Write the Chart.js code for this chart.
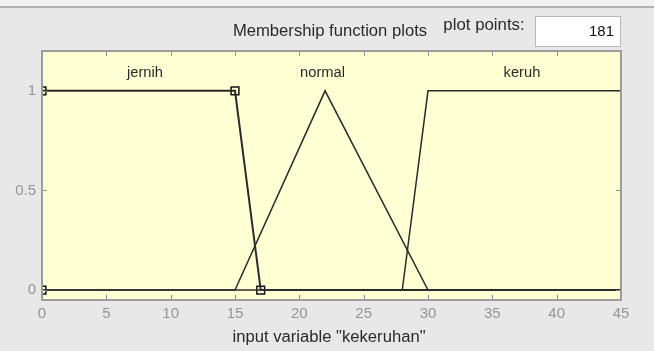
<!DOCTYPE html>
<html>
<head>
<meta charset="utf-8">
<script src="https://cdn.jsdelivr.net/npm/chart.js@4"></script>
<style>
  html, body { margin: 0; padding: 0; background: #e8e8e8; }
  #wrap { width: 654px; height: 351px; }
</style>
</head>
<body>
<div id="wrap"><canvas id="mf"></canvas></div>
<script>
// membership functions of "kekeruhan"
const mfNames = ['jernih', 'normal', 'keruh'];
const jernihX = [0, 15, 17, 45];
const jernihY = [1, 1, 0, 0];
const normalX = [0, 15, 22, 30, 45];
const normalY = [0, 0, 1, 0, 0];
const keruhX = [0, 28, 30, 45];
const keruhY = [0, 0, 1, 1];
// parameter markers of the selected MF (jernih, trapmf [0 0 15 17])
const markerX = [0, 0, 15, 17];
const markerY = [0, 1, 1, 0];
// label anchor positions
const labelX = [8, 21.8, 37.3];
const labelY = 1.09;
const xTicks = [0, 5, 10, 15, 20, 25, 30, 35, 40, 45];
const yTicks = [0, 0.5, 1];
const plotPoints = '181';
const xTitle = 'input variable "kekeruhan"';

const FONT = '"Liberation Sans", Arial, sans-serif';

function pts(xs, ys) {
    return xs.map((x, i) => ({ x: x, y: ys[i] }));
}

// text slightly wider than the font, like the old GUI font
function wideText(ctx, txt, x, y, sx) {
    ctx.save();
    ctx.translate(x, y);
    ctx.scale(sx, 1);
    ctx.fillText(txt, 0, 0);
    ctx.restore();
}

const panelPlugin = {
    id: 'panel',
    beforeDraw(chart) {
        const ctx = chart.ctx;
        const a = chart.chartArea;
        ctx.save();
        ctx.fillStyle = '#e8e8e8';
        ctx.fillRect(0, 0, chart.width, chart.height);
        ctx.fillStyle = '#f2f2f2';
        ctx.fillRect(0, 0, chart.width, 6);
        ctx.fillStyle = '#b2b2b2';
        ctx.fillRect(0, 6, chart.width, 2);
        // plot background
        ctx.fillStyle = '#ffffd4';
        ctx.fillRect(a.left, a.top, a.right - a.left, a.bottom - a.top);

        ctx.fillStyle = '#2a2a2a';
        ctx.font = '16px ' + FONT;
        ctx.textBaseline = 'middle';
        ctx.textAlign = 'center';
        wideText(ctx, 'Membership function plots', 330, 32, 1.04);
        wideText(ctx, 'plot points:', 484, 26, 1.05);
        wideText(ctx, xTitle, 329, 338, 1.04);

        // plot points box
        ctx.fillStyle = '#ffffff';
        ctx.fillRect(535, 16, 85, 30);
        ctx.strokeStyle = '#b8b8b8';
        ctx.lineWidth = 1;
        ctx.strokeRect(535.5, 16.5, 85, 30);
        ctx.fillStyle = '#111';
        ctx.textAlign = 'right';
        ctx.font = '15px ' + FONT;
        ctx.fillText(plotPoints, 614, 32);
        ctx.restore();
    },
    afterDatasetsDraw(chart) {
        const ctx = chart.ctx;
        const a = chart.chartArea;
        const xs = chart.scales.x;
        const ys = chart.scales.y;
        ctx.save();
        // MF names
        ctx.fillStyle = '#2a2a2a';
        ctx.font = '14px ' + FONT;
        ctx.textAlign = 'center';
        ctx.textBaseline = 'middle';
        mfNames.forEach((n, i) => {
            wideText(ctx, n, xs.getPixelForValue(labelX[i]), ys.getPixelForValue(labelY), 1.05);
        });
        // inner tick marks
        ctx.strokeStyle = '#8c8c8c';
        ctx.lineWidth = 1;
        ctx.beginPath();
        xTicks.forEach(v => {
            const px = Math.round(xs.getPixelForValue(v)) + 0.5;
            ctx.moveTo(px, a.bottom); ctx.lineTo(px, a.bottom - 5);
            ctx.moveTo(px, a.top); ctx.lineTo(px, a.top + 5);
        });
        yTicks.forEach(v => {
            const py = Math.round(ys.getPixelForValue(v)) + 0.5;
            ctx.moveTo(a.left, py); ctx.lineTo(a.left + 5, py);
            ctx.moveTo(a.right, py); ctx.lineTo(a.right - 5, py);
        });
        ctx.stroke();
        // axes box
        ctx.strokeStyle = '#9c9c9c';
        ctx.lineWidth = 2;
        ctx.strokeRect(a.left, a.top, a.right - a.left, a.bottom - a.top);
        ctx.restore();
    }
};

const lineStyle = {
    borderColor: '#2b2b2b',
    borderWidth: 1.5,
    pointRadius: 0,
    tension: 0,
    fill: false,
    clip: 0
};

new Chart(document.getElementById('mf'), {
    type: 'line',
    data: {
        datasets: [
            Object.assign({ label: 'jernih', data: pts(jernihX, jernihY) }, lineStyle, { borderWidth: 2 }),
            Object.assign({ label: 'normal', data: pts(normalX, normalY) }, lineStyle),
            Object.assign({ label: 'keruh', data: pts(keruhX, keruhY) }, lineStyle),
            {
                label: 'params',
                data: pts(markerX, markerY),
                showLine: false,
                pointStyle: 'rect',
                pointRadius: 5.5,
                pointBorderWidth: 1.5,
                pointBorderColor: '#111',
                pointBackgroundColor: 'rgba(0,0,0,0)',
                clip: 0
            }
        ]
    },
    options: {
        responsive: true,
        maintainAspectRatio: false,
        animation: false,
        events: [],
        layout: { padding: { top: 51, right: 33, left: 0, bottom: 0 } },
        plugins: {
            legend: { display: false },
            tooltip: { enabled: false },
            title: { display: false }
        },
        scales: {
            x: {
                type: 'linear',
                min: 0,
                max: 45,
                afterBuildTicks: s => { s.ticks = xTicks.map(v => ({ value: v })); },
                afterFit: s => { s.height = 51; },
                grid: { display: false, drawTicks: false },
                border: { display: false },
                ticks: {
                    color: '#959595',
                    font: { family: FONT, size: 15 },
                    padding: 5,
                    maxRotation: 0,
                    autoSkip: false
                }
            },
            y: {
                type: 'linear',
                min: -0.05,
                max: 1.2,
                afterBuildTicks: s => { s.ticks = yTicks.map(v => ({ value: v })); },
                afterFit: s => { s.width = 42; },
                grid: { display: false, drawTicks: false },
                border: { display: false },
                ticks: {
                    color: '#959595',
                    font: { family: FONT, size: 15 },
                    padding: 6,
                    callback: v => String(v)
                }
            }
        }
    },
    plugins: [panelPlugin]
});
</script>
</body>
</html>
